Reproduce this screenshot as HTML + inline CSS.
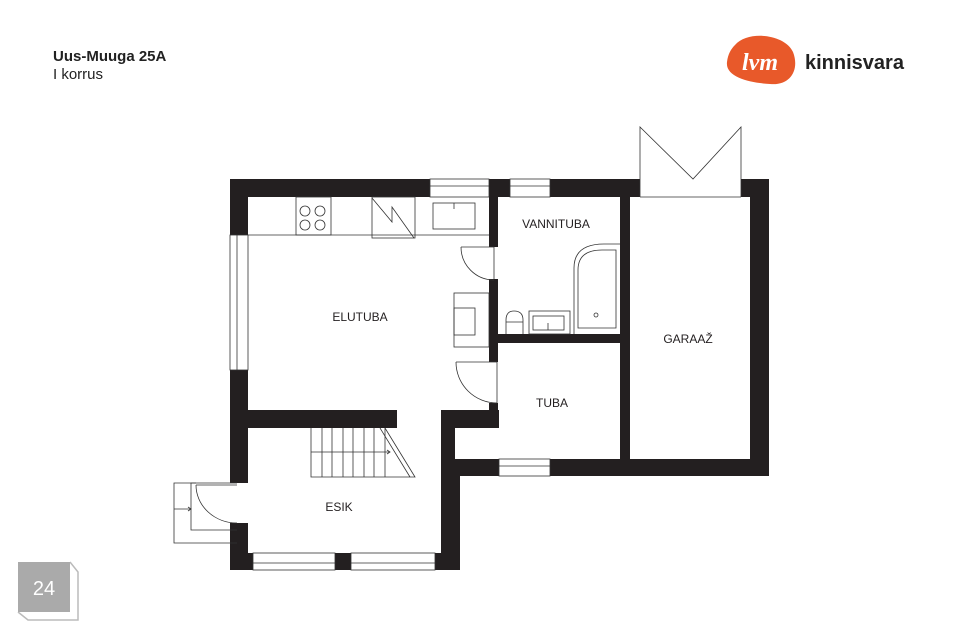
<!DOCTYPE html>
<html><head><meta charset="utf-8"><style>
html,body{margin:0;padding:0;background:#fff;}
body{width:960px;height:640px;overflow:hidden;position:relative;font-family:"Liberation Sans",sans-serif;}
</style></head><body>
<svg width="960" height="640" viewBox="0 0 960 640" xmlns="http://www.w3.org/2000/svg" style="position:absolute;left:0;top:0">
<text x="53" y="61" font-size="15" font-weight="bold" fill="#222">Uus-Muuga 25A</text>
<text x="53" y="79" font-size="15" fill="#222">I korrus</text>
<!-- logo -->
<path d="M735,45 C748,30 785,34 793,52 C800,70 790,86 770,84 C752,83 725,78 727,62 C728,54 731,49 735,45 Z" fill="#e8592a"/>
<text x="760" y="70" font-size="24" font-style="italic" font-weight="bold" font-family="Liberation Serif,serif" fill="#fff" text-anchor="middle">lvm</text>
<text x="805" y="69" font-size="20" font-weight="bold" fill="#222">kinnisvara</text>
<!-- badge -->
<path d="M70,562 L78,572 L78,620 L28,620 L18,612" fill="none" stroke="#bbb" stroke-width="1.5"/>
<rect x="18" y="562" width="52" height="50" fill="#aaa"/>
<text x="44" y="595" font-size="20" fill="#fff" text-anchor="middle">24</text>

<g fill="#231f20">
<rect x="230" y="179" width="200" height="18"/>
<rect x="489" y="179" width="21" height="18"/>
<rect x="550" y="179" width="90" height="18"/>
<rect x="741" y="179" width="28" height="18"/>
<rect x="230" y="179" width="18" height="56"/>
<rect x="230" y="370" width="18" height="113"/>
<rect x="230" y="523" width="18" height="47"/>
<rect x="750" y="179" width="19" height="297"/>
<rect x="550" y="459" width="219" height="17"/>
<rect x="441" y="459" width="58" height="17"/>
<rect x="441" y="410" width="14" height="160"/>
<rect x="441" y="459" width="19" height="111"/>
<rect x="230" y="553" width="23" height="17"/>
<rect x="335" y="553" width="16" height="17"/>
<rect x="435" y="553" width="25" height="17"/>
<rect x="489" y="197" width="9" height="50"/>
<rect x="489" y="279" width="9" height="83"/>
<rect x="489" y="403" width="9" height="25"/>
<rect x="441" y="410" width="58" height="18"/>
<rect x="248" y="410" width="149" height="18"/>
<rect x="498" y="334" width="122" height="9"/>
<rect x="620" y="197" width="10" height="262"/>
</g>
<g fill="none" stroke="#333" stroke-width="0.8">
<rect x="430" y="179" width="59" height="18"/><line x1="430" y1="186" x2="489" y2="186"/>
<rect x="510" y="179" width="40" height="18"/><line x1="510" y1="186" x2="550" y2="186"/>
<rect x="230" y="235" width="18" height="135"/><line x1="237" y1="235" x2="237" y2="370"/>
<rect x="499" y="459" width="51" height="17"/><line x1="499" y1="466" x2="550" y2="466"/>
<rect x="253" y="553" width="82" height="17"/><line x1="253" y1="563" x2="335" y2="563"/>
<rect x="351" y="553" width="84" height="17"/><line x1="351" y1="563" x2="435" y2="563"/>
<polyline points="640,197 640,127 693,179 741,127 741,197"/>
<line x1="640" y1="197" x2="741" y2="197"/>
<line x1="248" y1="235" x2="489" y2="235"/>
<rect x="296" y="197" width="35" height="38"/>
<circle cx="305" cy="211" r="5"/><circle cx="320" cy="211" r="5"/>
<circle cx="305" cy="225" r="5"/><circle cx="320" cy="225" r="5"/>
<rect x="372" y="197" width="43" height="41"/>
<polyline points="372,198 392,222 392,207 414,238"/>
<rect x="433" y="203" width="42" height="26"/><line x1="454" y1="203" x2="454" y2="209"/>
<line x1="461" y1="247" x2="494" y2="247"/>
<path d="M461,247 A33,33 0 0 0 494,280"/>
<line x1="494" y1="247" x2="494" y2="279"/>
<line x1="456" y1="362" x2="497" y2="362"/>
<path d="M456,362 A41,41 0 0 0 497,403"/>
<line x1="497" y1="362" x2="497" y2="403"/>
<rect x="454" y="293" width="35" height="54"/>
<rect x="454" y="308" width="21" height="27"/>
<path d="M574,334 L574,268 Q574,244 604,244 L620,244"/>
<path d="M578,328 L578,270 Q578,250 602,250 L616,250 L616,328 Z"/>
<circle cx="596" cy="315" r="2"/>
<rect x="529" y="311" width="41" height="23"/>
<rect x="533" y="316" width="31" height="14"/><line x1="548" y1="323" x2="548" y2="330"/>
<path d="M506,334 L506,320 Q506,311 514,311 Q523,311 523,320 L523,334"/>
<line x1="506" y1="322" x2="523" y2="322"/>
<polyline points="311,428 311,477 415,477 385,428"/>
<line x1="380" y1="428" x2="410" y2="477"/>
<line x1="322" y1="428" x2="322" y2="477"/><line x1="332" y1="428" x2="332" y2="477"/>
<line x1="343" y1="428" x2="343" y2="477"/><line x1="353" y1="428" x2="353" y2="477"/>
<line x1="364" y1="428" x2="364" y2="477"/><line x1="374" y1="428" x2="374" y2="477"/>
<line x1="385" y1="428" x2="385" y2="477"/>
<line x1="311" y1="452" x2="390" y2="452"/>
<polyline points="387,450 390,452 387,454"/>
<polyline points="237,543 174,543 174,483 237,483"/>
<polyline points="196,483 191,483 191,530 237,530"/>
<line x1="196" y1="485" x2="237" y2="485"/>
<path d="M196,485 A41,38 0 0 0 237,523"/>
<line x1="174" y1="509" x2="191" y2="509"/>
<polyline points="188,507 191,509 188,511"/>
</g>
<g font-size="12" fill="#231f20" text-anchor="middle">
<text x="360" y="321">ELUTUBA</text>
<text x="556" y="228">VANNITUBA</text>
<text x="688" y="343">GARAAŽ</text>
<text x="552" y="407">TUBA</text>
<text x="339" y="511">ESIK</text>
</g>
</svg>
</body></html>
